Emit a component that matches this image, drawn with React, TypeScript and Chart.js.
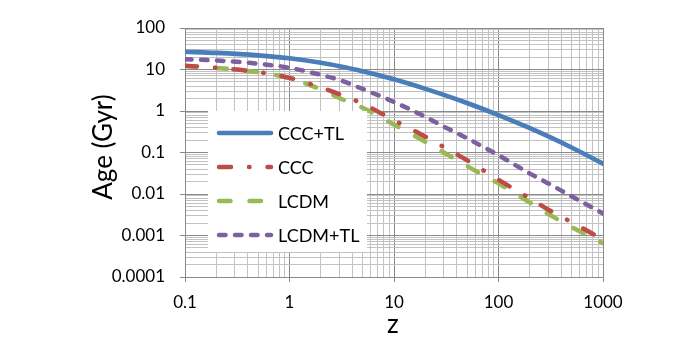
import React, { useEffect, useRef } from "react";
import { Chart, registerables } from "chart.js";

Chart.register(...registerables);

// ---- data ----
const zValues = [0.1, 0.2, 0.5, 1, 2, 3, 5, 10, 20, 30, 50, 100, 200, 300, 500, 1000];
const cccTL = [26.8, 25.1, 21.9, 18.6, 14.5, 12.0, 9.1, 5.8, 3.42, 2.45, 1.56, 0.8, 0.386, 0.244, 0.132, 0.054];
const ccc = [12.3, 11.0, 8.7, 6.3, 3.7, 2.55, 1.5, 0.6, 0.24, 0.135, 0.065, 0.022, 0.0078, 0.0042, 0.0021, 0.0008];
const lcdm = [12.2, 10.9, 8.6, 6.2, 3.3, 2.05, 1.2, 0.47, 0.18, 0.1, 0.047, 0.018, 0.0062, 0.0033, 0.0016, 0.00065];
const lcdmTL = [17.6, 16.5, 13.8, 11.0, 7.4, 5.6, 3.4, 1.65, 0.72, 0.42, 0.22, 0.086, 0.031, 0.018, 0.0088, 0.0034];

const seriesNames = ["CCC+TL", "CCC", "LCDM", "LCDM+TL"];
const xDecades = [0.1, 1, 10, 100, 1000];
const yDecades = [0.0001, 0.001, 0.01, 0.1, 1, 10, 100];
const xTitle = "z";
const yTitle = "Age (Gyr)";

// ---- styles ----
const COLORS = ["#4A7EBB", "#BE4B48", "#98B954", "#7D60A0"];
const DASHES: number[][] = [[], [12, 18, 0.5, 18], [11.5, 19], [6.5, 9.5]];
const WIDTHS = [4.6, 4.5, 4.5, 4.5];
const FONT = "Lato, 'Open Sans', sans-serif";

function logTicks(decades: number[]) {
  const out: number[] = [];
  for (let i = 0; i < decades.length; i++) {
    out.push(decades[i]);
    if (i < decades.length - 1) {
      for (let k = 2; k <= 9; k++) out.push(decades[i] * k);
    }
  }
  return out;
}
const findDecade = (list: number[], v: number) =>
  list.find((d) => Math.abs(v / d - 1) < 1e-9);
const isDecade = (list: number[], v: number) => findDecade(list, v) !== undefined;

const overlayPlugin = {
  id: "overlay",
  afterDatasetsDraw(chart: any) {
    const ctx = chart.ctx as CanvasRenderingContext2D;
    ctx.save();
    // legend box
    ctx.fillStyle = "#ffffff";
    ctx.fillRect(208, 111, 159, 141);
    const rows = [133, 167, 201, 235];
    seriesNames.forEach((name, i) => {
      const y = rows[i];
      ctx.beginPath();
      ctx.strokeStyle = COLORS[i];
      ctx.lineWidth = WIDTHS[i];
      ctx.lineCap = "round";
      ctx.setLineDash(DASHES[i]);
      ctx.moveTo(219, y);
      ctx.lineTo(271, y);
      ctx.stroke();
      ctx.setLineDash([]);
      ctx.fillStyle = "#000";
      ctx.font = `18px ${FONT}`;
      ctx.textAlign = "left";
      ctx.textBaseline = "middle";
      ctx.fillText(name, 278, y + 1);
    });
    ctx.restore();
  },
  afterDraw(chart: any) {
    const ctx = chart.ctx as CanvasRenderingContext2D;
    ctx.save();
    ctx.fillStyle = "#000";
    ctx.font = `26px ${FONT}`;
    ctx.textAlign = "center";
    ctx.textBaseline = "middle";
    ctx.fillText(xTitle, 393, 325);
    ctx.translate(104, 147);
    ctx.rotate(-Math.PI / 2);
    ctx.fillText(yTitle, 0, 0);
    ctx.restore();
  },
};

export default function App() {
  const canvasRef = useRef<HTMLCanvasElement | null>(null);

  useEffect(() => {
    if (!canvasRef.current) return;
    const series = [cccTL, ccc, lcdm, lcdmTL];
    const xTicks = logTicks(xDecades);
    const yTicks = logTicks(yDecades);
    const gridColor = (list: number[]) => (c: any) =>
      c.tick && isDecade(list, c.tick.value) ? "#8a8a8a" : "#c2c2c2";
    const tickColor = (list: number[]) => (c: any) =>
      c.tick && isDecade(list, c.tick.value) ? "#8a8a8a" : "rgba(0,0,0,0)";

    const chart = new Chart(canvasRef.current, {
      type: "scatter",
      data: {
        datasets: series.map((vals, i) => ({
          label: seriesNames[i],
          data: zValues.map((z, j) => ({ x: z, y: vals[j] })),
          showLine: true,
          borderColor: COLORS[i],
          backgroundColor: COLORS[i],
          borderWidth: WIDTHS[i],
          borderDash: DASHES[i],
          borderCapStyle: "round",
          pointRadius: 0,
          pointHoverRadius: 0,
          cubicInterpolationMode: "monotone",
          fill: false,
        })),
      },
      options: {
        animation: false,
        responsive: false,
        devicePixelRatio: 1,
        layout: { padding: { left: 0, top: 28, right: 72, bottom: 0 } },
        plugins: {
          legend: { display: false },
          tooltip: { enabled: false },
          title: { display: false },
        },
        scales: {
          x: {
            type: "logarithmic",
            min: 0.1,
            max: 1000,
            afterFit: (s: any) => {
              s.height = 83;
            },
            afterBuildTicks: (s: any) => {
              s.ticks = xTicks.map((v) => ({ value: v }));
            },
            ticks: {
              autoSkip: false,
              maxRotation: 0,
              padding: 10,
              color: "#000",
              font: { family: FONT, size: 17 },
              callback: (v: any) => {
                const d = findDecade(xDecades, Number(v));
                return d === undefined ? "" : String(d);
              },
            },
            grid: {
              color: gridColor(xDecades),
              tickColor: tickColor(xDecades),
              tickLength: 5,
              lineWidth: 1,
            },
            border: { color: "#8a8a8a" },
          },
          y: {
            type: "logarithmic",
            min: 0.0001,
            max: 100,
            afterFit: (s: any) => {
              s.width = 185;
            },
            afterBuildTicks: (s: any) => {
              s.ticks = yTicks.map((v) => ({ value: v }));
            },
            ticks: {
              autoSkip: false,
              padding: 15,
              color: "#000",
              font: { family: FONT, size: 17 },
              callback: (v: any) => {
                const d = findDecade(yDecades, Number(v));
                return d === undefined ? "" : String(d);
              },
            },
            grid: {
              color: gridColor(yDecades),
              tickColor: tickColor(yDecades),
              tickLength: 5,
              lineWidth: 1,
            },
            border: { color: "#8a8a8a" },
          },
        },
      },
      plugins: [overlayPlugin],
    } as any);

    return () => chart.destroy();
  }, []);

  return (
    <div style={{ position: "absolute", left: 0, top: 0, width: 675, height: 360, background: "#fff" }}>
      <canvas ref={canvasRef} width={675} height={360} style={{ display: "block" }} />
    </div>
  );
}
